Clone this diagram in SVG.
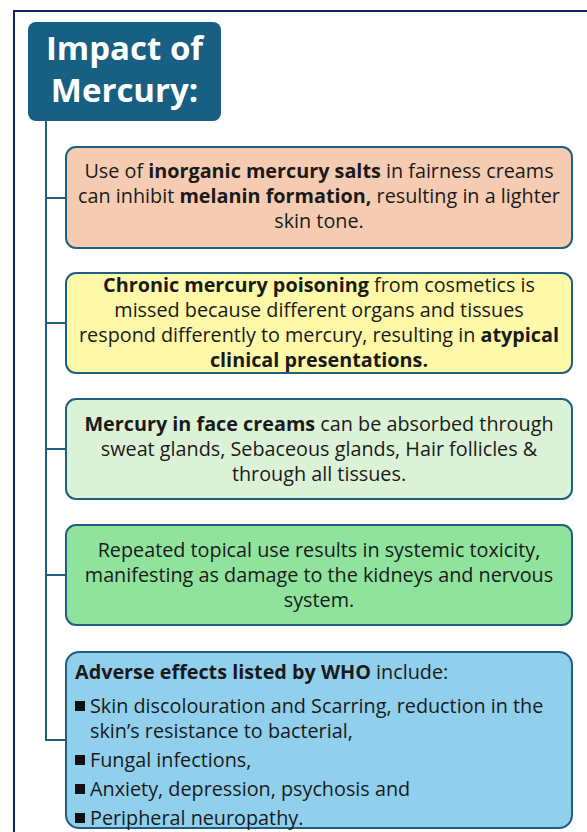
<svg xmlns="http://www.w3.org/2000/svg" width="587" height="832" viewBox="0 0 587 832">
<style>
.box{stroke:#1f5f80;stroke-width:2}
.t{font-family:"Open Sans","Liberation Sans",sans-serif;font-size:19.8px;fill:#1a1a1a}
.c{text-anchor:middle}
.b{font-weight:bold}
.title{font-family:"Open Sans","Liberation Sans",sans-serif;font-size:33px;font-weight:bold;fill:#ffffff;text-anchor:middle}
.conn{stroke:#1f5f80;stroke-width:2;fill:none}
</style>
<rect width="587" height="832" fill="#ffffff"/>
<path d="M14 832 L14 11 L587 11" fill="none" stroke="#0d2360" stroke-width="2"/>
<g id="connectors">
<path class="conn" d="M46 121 L46 740 L66 740"/>
<path class="conn" d="M46 198 L66 198"/>
<path class="conn" d="M46 323 L66 323"/>
<path class="conn" d="M46 449 L66 449"/>
<path class="conn" d="M46 575 L66 575"/>
</g>
<g id="title">
<rect x="28" y="22" width="193" height="99" rx="8" fill="#186083"/>
<text class="title" x="124.5" y="60">Impact of</text>
<text class="title" x="124.5" y="102">Mercury:</text>
</g>
<g id="box1">
<rect class="box" x="66" y="147" width="506" height="101" rx="10" fill="#f5cbb1"/>
<text class="t c" x="319" y="178">Use of <tspan class="b">inorganic mercury salts</tspan> in fairness creams</text>
<text class="t c" x="319" y="203">can inhibit <tspan class="b">melanin formation,</tspan> resulting in a lighter</text>
<text class="t c" x="319" y="228">skin tone.</text>
</g>
<g id="box2">
<rect class="box" x="66" y="273" width="506" height="100" rx="10" fill="#fdf9a8"/>
<text class="t c" x="319" y="292"><tspan class="b">Chronic mercury poisoning</tspan> from cosmetics is</text>
<text class="t c" x="319" y="317">missed because different organs and tissues</text>
<text class="t c" x="319" y="342">respond differently to mercury, resulting in <tspan class="b">atypical</tspan></text>
<text class="t c" x="319" y="367"><tspan class="b">clinical presentations.</tspan></text>
</g>
<g id="box3">
<rect class="box" x="66" y="399" width="506" height="100" rx="10" fill="#dcf2d6"/>
<text class="t c" x="319" y="431"><tspan class="b">Mercury in face creams</tspan> can be absorbed through</text>
<text class="t c" x="319" y="456">sweat glands, Sebaceous glands, Hair follicles &amp;</text>
<text class="t c" x="319" y="481">through all tissues.</text>
</g>
<g id="box4">
<rect class="box" x="66" y="525" width="506" height="100" rx="10" fill="#8fe39c"/>
<text class="t c" x="319" y="557">Repeated topical use results in systemic toxicity,</text>
<text class="t c" x="319" y="582">manifesting as damage to the kidneys and nervous</text>
<text class="t c" x="319" y="607">system.</text>
</g>
<g id="box5">
<rect class="box" x="66" y="652" width="506" height="176" rx="13" fill="#90d0ec"/>
<text class="t" x="75" y="679"><tspan class="b">Adverse effects listed by WHO</tspan> include:</text>
<rect x="75" y="701" width="10" height="10" fill="#111"/>
<text class="t" x="90" y="713">Skin discolouration and Scarring, reduction in the</text>
<text class="t" x="90" y="738">skin’s resistance to bacterial,</text>
<rect x="75" y="755" width="10" height="10" fill="#111"/>
<text class="t" x="90" y="767">Fungal infections,</text>
<rect x="75" y="784" width="10" height="10" fill="#111"/>
<text class="t" x="90" y="796">Anxiety, depression, psychosis and</text>
<rect x="75" y="813" width="10" height="10" fill="#111"/>
<text class="t" x="90" y="825">Peripheral neuropathy.</text>
</g>
</svg>
